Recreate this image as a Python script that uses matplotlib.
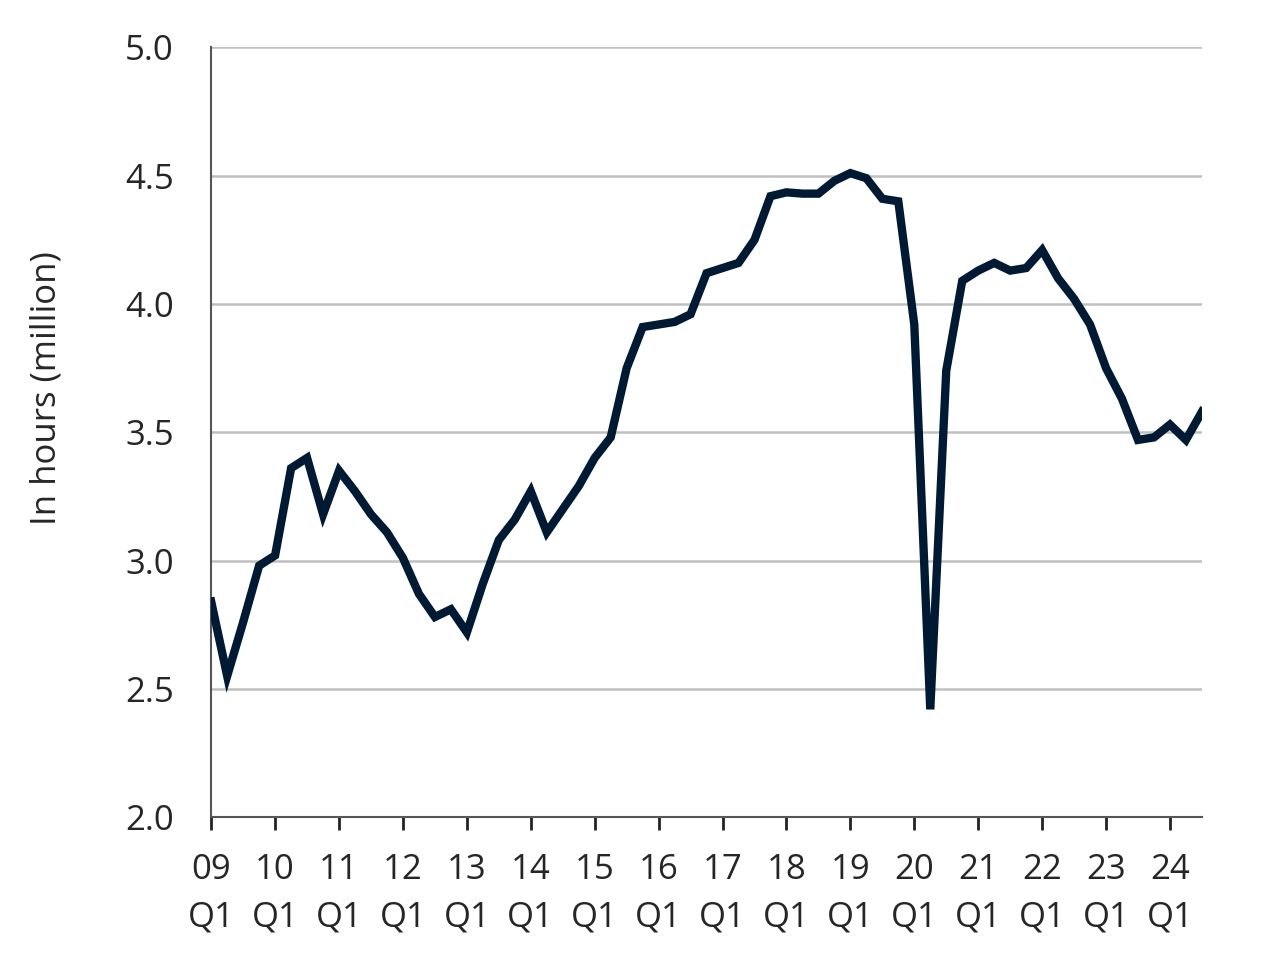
import matplotlib
matplotlib.use('Agg')
import matplotlib.pyplot as plt
import numpy as np

plt.rcParams['font.family'] = ['Open Sans', 'DejaVu Sans']

# Quarterly values, 09 Q1 to 24 Q3 (million hours)
hours = [
    2.84, 2.55, 2.76, 2.98,   # 2009
    3.02, 3.36, 3.40, 3.18,   # 2010
    3.35, 3.27, 3.18, 3.11,   # 2011
    3.01, 2.87, 2.78, 2.81,   # 2012
    2.72, 2.91, 3.08, 3.16,   # 2013
    3.27, 3.11, 3.20, 3.29,   # 2014
    3.40, 3.48, 3.75, 3.91,   # 2015
    3.92, 3.93, 3.96, 4.12,   # 2016
    4.14, 4.16, 4.25, 4.42,   # 2017
    4.435, 4.43, 4.43, 4.48,  # 2018
    4.51, 4.49, 4.41, 4.40,   # 2019
    3.92, 2.42, 3.74, 4.09,   # 2020
    4.13, 4.16, 4.13, 4.14,   # 2021
    4.21, 4.10, 4.02, 3.92,   # 2022
    3.75, 3.63, 3.47, 3.48,   # 2023
    3.53, 3.47, 3.58,         # 2024
]
years = ['09', '10', '11', '12', '13', '14', '15', '16',
         '17', '18', '19', '20', '21', '22', '23', '24']
y_ticks = [2.0, 2.5, 3.0, 3.5, 4.0, 4.5, 5.0]

fig = plt.figure(figsize=(12.8, 9.67), dpi=100)
ax = fig.add_axes([0.165, 0.155, 0.774, 0.796])

x = np.arange(len(hours))
ax.plot(x, hours, color='#001a33', linewidth=6, solid_joinstyle='miter', zorder=3)

ax.set_xlim(0, len(hours) - 1)
ax.set_ylim(2.0, 5.0)
ax.set_yticks(y_ticks)
ax.set_yticklabels([f'{v:.1f}' for v in y_ticks])
ax.set_xticks(np.arange(len(years)) * 4)
ax.set_xticklabels([f'{y}\nQ1' for y in years], linespacing=1.52)

ax.grid(axis='y', color='#c0c0c0', linewidth=1.8, zorder=1)
ax.set_axisbelow(True)

for s in ['top', 'right']:
    ax.spines[s].set_visible(False)
for s in ['left', 'bottom']:
    ax.spines[s].set_color('#555555')
    ax.spines[s].set_linewidth(1.5)

ax.tick_params(axis='y', length=0, pad=27, labelsize=25, labelcolor='#262626')
ax.tick_params(axis='x', length=9, width=2, color='#222222', pad=16.5,
               labelsize=25, labelcolor='#262626')

ax.set_ylabel('In hours (million)', fontsize=25, color='#262626')
ax.yaxis.set_label_coords(-0.149, 0.557)

fig.savefig('out.png', dpi=100, facecolor='white')
